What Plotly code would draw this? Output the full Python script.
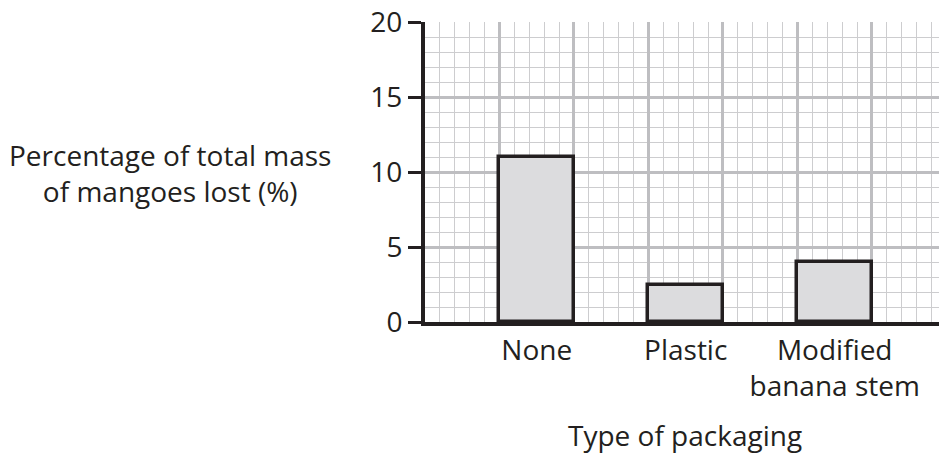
import plotly.graph_objects as go

categories = ["None", "Plastic", "Modified<br>banana stem"]
values = [11, 2.5, 4]
y_tickvals = [0, 5, 10, 15, 20]
y_title = "Percentage of total mass<br>of mangoes lost (%)"
x_title = "Type of packaging"

FONT = "Open Sans"
FS = 28
MAJOR = "#bebec1"
MINOR = "#cdcdcf"
INK = "#231f20"

W, H = 939, 456
L, T, B = 425, 22, 456 - 322
PW = W - L
PH = H - T - B

fig = go.Figure()
fig.add_trace(go.Bar(
    x=categories, y=values, width=0.5,
    marker=dict(color="#dcdcde", line=dict(color=INK, width=3.5)),
    showlegend=False, hoverinfo="skip",
))
# empty trace to make the grid axis exist
fig.add_trace(go.Scatter(x=[], y=[], xaxis="x2", yaxis="y", showlegend=False))

fig.update_layout(
    width=W, height=H,
    margin=dict(l=L, r=0, t=T, b=B, pad=0),
    paper_bgcolor="white", plot_bgcolor="white",
    font=dict(family=FONT, size=FS, color=INK),
    bargap=0,
    xaxis=dict(
        type="category", range=[-0.75, 2.7],
        showgrid=False, zeroline=False,
        showline=True, linecolor=INK, linewidth=4,
        ticks="", tickfont=dict(size=FS, color=INK),
        fixedrange=True,
    ),
    xaxis2=dict(
        overlaying="x", anchor="y", side="bottom",
        range=[0, 34.5], tick0=0, dtick=5,
        showgrid=True, gridcolor=MAJOR, gridwidth=3,
        minor=dict(dtick=1, showgrid=True, gridcolor=MINOR, gridwidth=1.3),
        showticklabels=False, showline=False, zeroline=False, ticks="",
    ),
    yaxis=dict(
        range=[0, 20.04], tickvals=y_tickvals,
        showgrid=True, gridcolor=MAJOR, gridwidth=3,
        minor=dict(dtick=1, showgrid=True, gridcolor=MINOR, gridwidth=1.3),
        showline=True, linecolor=INK, linewidth=4,
        ticks="outside", ticklen=13, tickwidth=2.5, tickcolor=INK,
        zeroline=False, tickfont=dict(size=FS, color=INK),
    ),
    annotations=[
        dict(text=y_title, xref="paper", yref="paper", x=(170 - 425) / PW, y=(322 - 173) / PH,
             xanchor="center", yanchor="middle", showarrow=False, align="center",
             font=dict(size=FS, color=INK)),
        dict(text=x_title, xref="paper", yref="paper", x=(685 - 425) / PW, y=-(435 - 322) / PH,
             xanchor="center", yanchor="middle", showarrow=False,
             font=dict(size=FS, color=INK)),
    ],
)

fig.write_html("out.html", config={"displayModeBar": False},
               post_script="document.body.style.margin='0';")
